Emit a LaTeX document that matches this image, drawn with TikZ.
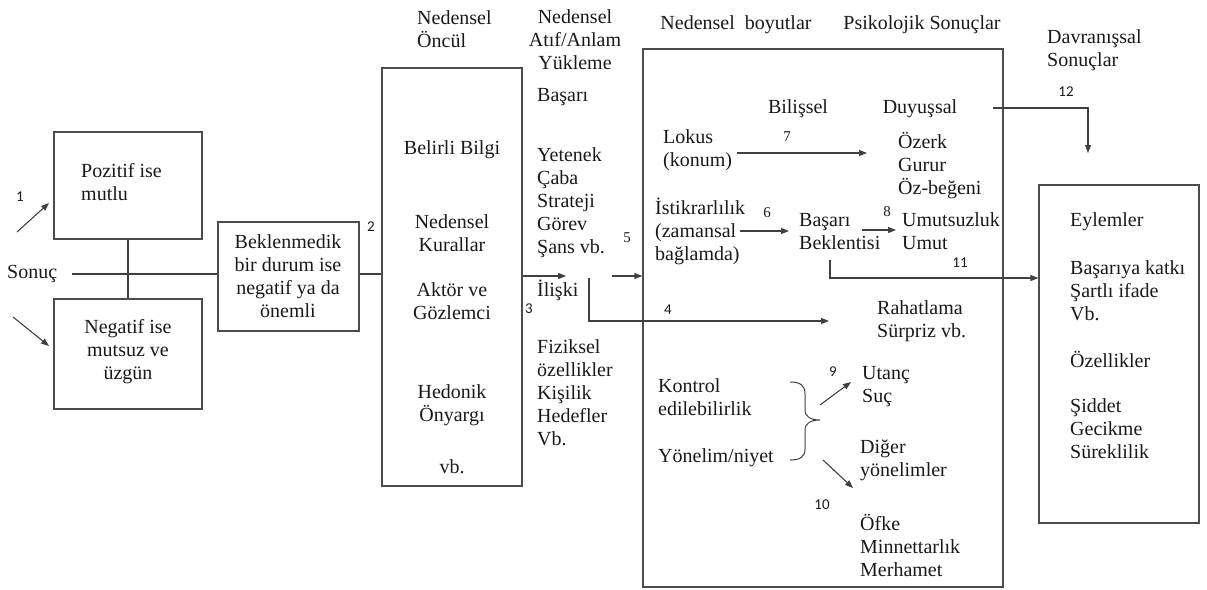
\documentclass[tikz,border=0pt]{standalone}
\usepackage{fontspec}
\setmainfont{Liberation Serif}
\newfontfamily\numfont{Carlito}
\usetikzlibrary{arrows.meta}
\begin{document}
\begin{tikzpicture}[x=1pt,y=-1pt,
  every node/.style={inner sep=0pt, text=black!90},
  txt/.style={font=\fontsize{20}{23}\selectfont},
  ltxt/.style={txt, align=left, anchor=west},
  ctxt/.style={txt, align=center},
  num/.style={font=\numfont\fontsize{15}{18}\selectfont},
  snum/.style={font=\fontsize{15}{18}\selectfont},
  box/.style={draw=black!70, line width=1.1pt},
  link/.style={draw=black!75, line width=1.1pt},
  arr/.style={link, -{Triangle[length=8pt,width=6pt]}}
]
\useasboundingbox (0,0) rectangle (1207,589);

% ---- boxes ----
\node[box, minimum width=148, minimum height=107] (poz) at (128,185.5) {};
\node[box, minimum width=148, minimum height=110] (neg) at (128,354) {};
\node[box, minimum width=141, minimum height=109] (bek) at (288.5,276.5) {};
\node[box, minimum width=140, minimum height=418] (oncul) at (452,277) {};
\node[box, minimum width=360, minimum height=538] (big) at (823,318) {};
\node[box, minimum width=160, minimum height=338] (res) at (1119,354) {};

% ---- left part ----
\node[txt, anchor=west] (sonuc) at (7,274) {Sonuç};
\node[ltxt] (pozt) at (81,182.5) {Pozitif ise\\mutlu};
\node[ctxt] (negt) at (128,352) {Negatif ise\\mutsuz ve\\üzgün};
\node[ctxt] (bekt) at (288,276.5) {Beklenmedik\\bir durum ise\\negatif ya da\\önemli};
\node[num] (n1) at (20,197) {1};
\node[num] (n2) at (371,227) {2};

\coordinate (a1s) at (17,232);  \coordinate (a1e) at (49,203);
\coordinate (a2s) at (13,317);  \coordinate (a2e) at (49,346);
\draw[arr] (a1s) -- (a1e);
\draw[arr] (a2s) -- (a2e);
\draw[link] (poz.south) -- (neg.north);
\draw[link] ([xshift=15pt]sonuc.east) -- (sonuc.east -| bek.west);
\draw[link] (bek.east |- sonuc) -- (oncul.west |- sonuc);

% ---- causal antecedents ----
\node[ltxt] (hon) at (417,29) {Nedensel\\Öncül};
\node[ctxt] at (452,150) {Belirli Bilgi};
\node[ctxt] at (452,233.5) {Nedensel\\Kurallar};
\node[ctxt] at (452,301.5) {Aktör ve\\Gözlemci};
\node[ctxt] at (452,405) {Hedonik\\Önyargı};
\node[ctxt] at (452,467) {vb.};

% ---- attributions ----
\node[ctxt] (hatif) at (575,40) {Nedensel\\Atıf/Anlam\\Yükleme};
\node[ltxt] (basari) at (537,97) {Başarı};
\node[ltxt] (yetenek) at (537,203) {Yetenek\\Çaba\\Strateji\\Görev\\Şans vb.};
\node[ltxt] (iliski) at (537,290) {İlişki};
\node[ltxt] (fiz) at (537,393) {Fiziksel\\özellikler\\Kişilik\\Hedefler\\Vb.};
\node[num] (n3) at (529,309) {3};
\node[snum] (n5) at (627,238) {5};

\coordinate (a3e) at (566,276);
\coordinate (a5s) at (612,276);
\coordinate (l4a) at (589,278);
\coordinate (l4b) at (589,321);
\coordinate (a4e) at (829,321);
\draw[arr] (oncul.east |- a3e) -- (a3e);
\draw[arr] (a5s) -- (big.west |- a5s);
\draw[arr] (l4a) -- (l4b) -- (a4e);
\node[num] (n4) at (668,310) {4};

% ---- causal dimensions / psychological consequences ----
\node[txt] (hboy) at (736,25) {Nedensel\ \ boyutlar};
\node[txt] (hpsi) at (922,25) {Psikolojik Sonuçlar};
\node[txt] (bilis) at (798,109) {Bilişsel};
\node[txt] (duyus) at (920,109) {Duyuşsal};

\node[ltxt] (lokus) at (663,150) {Lokus\\(konum)};
\node[ltxt] (ozerk) at (898,166) {Özerk\\Gurur\\Öz-beğeni};
\node[ltxt] (istik) at (655,231) {İstikrarlılık\\(zamansal\\bağlamda)};
\node[ltxt] (bbek) at (799,231.5) {Başarı\\Beklentisi};
\node[ltxt] (umut) at (902,231.5) {Umutsuzluk\\Umut};
\node[ltxt] (rahat) at (877,321) {Rahatlama\\Sürpriz vb.};
\node[ltxt] (kontrol) at (658,397) {Kontrol\\edilebilirlik};
\node[ltxt] (utanc) at (862,386.5) {Utanç\\Suç};
\node[ltxt] (yonel) at (658,458) {Yönelim/niyet};
\node[ltxt] (diger) at (860,460.5) {Diğer\\yönelimler};
\node[ltxt] (ofke) at (860,545) {Öfke\\Minnettarlık\\Merhamet};

\node[snum] (n7) at (787,137) {7};
\node[snum] (n6) at (767,213) {6};
\node[snum] (n8) at (887,212) {8};
\node[num] (n11) at (960,263) {11};
\node[num] (n9) at (833,372) {9};
\node[num] (n10) at (822,505) {10};

\coordinate (a7s) at (737,153);  \coordinate (a7e) at (867,153);
\coordinate (a6s) at (740,231);  \coordinate (a6e) at (789,231);
\coordinate (a8s) at (862,230);  \coordinate (a8e) at (896,230);
\coordinate (a9s) at (820,405);  \coordinate (a9e) at (851,382);
\coordinate (a10s) at (823,460); \coordinate (a10e) at (853,488);
\coordinate (l11a) at (830,260); \coordinate (l11b) at (830,278);
\draw[arr] (a7s) -- (a7e);
\draw[arr] (a6s) -- (a6e);
\draw[arr] (a8s) -- (a8e);
\draw[arr] (a9s) -- (a9e);
\draw[arr] (a10s) -- (a10e);
\draw[arr] (l11a) -- (l11b) -- (res.west |- l11b);

% brace grouping controllability and intentionality
\draw[link, line width=1pt]
  (790,382) .. controls (800,382) and (805,385) .. (805,394)
  -- (805,410) .. controls (805,417) and (811,420) .. (820,420)
  .. controls (811,420) and (805,423) .. (805,430)
  -- (805,449) .. controls (805,457) and (800,460) .. (790,460);

% ---- behavioural consequences ----
\node[ltxt] (hdav) at (1047,50) {Davranışsal\\Sonuçlar};
\node[num] (n12) at (1066,92) {12};
\coordinate (l12a) at (993,108);
\coordinate (l12b) at (1088,108);
\coordinate (a12e) at (1088,153);
\draw[arr] (l12a) -- (l12b) -- (a12e);

\node[ltxt] (eyl) at (1070,222) {Eylemler};
\node[ltxt] (katki) at (1070,290.5) {Başarıya katkı\\Şartlı ifade\\Vb.};
\node[ltxt] (ozel) at (1070,359) {Özellikler};
\node[ltxt] (siddet) at (1070,428.5) {Şiddet\\Gecikme\\Süreklilik};
\end{tikzpicture}
\end{document}
